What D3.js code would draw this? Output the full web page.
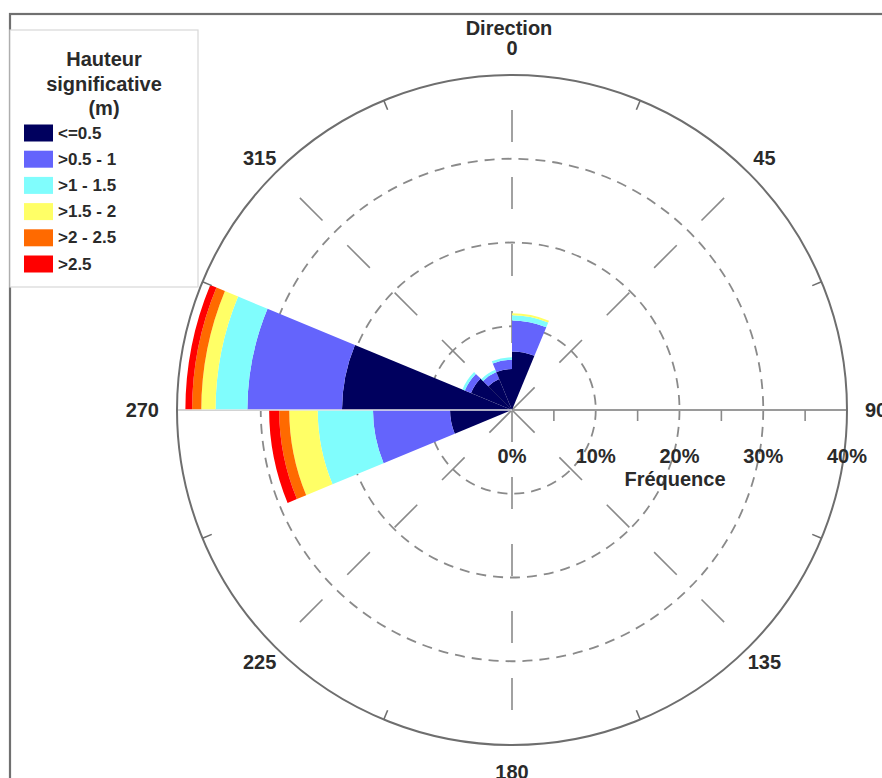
<!DOCTYPE html>
<html>
<head>
<meta charset="utf-8">
<script src="https://cdn.jsdelivr.net/npm/d3@7"></script>
<style>
  html, body { margin: 0; padding: 0; background: #fff; }
  svg { display: block; }
  text { font-family: "Liberation Sans", Arial, sans-serif; font-weight: bold; fill: #2a2a2a; }
</style>
</head>
<body>
<script>
// ---------- DATA ----------
// Direction bins (start angle in degrees, 22.5° wide)
const binStarts = [0, 22.5, 45, 67.5, 90, 112.5, 135, 157.5, 180, 202.5, 225, 247.5, 270, 292.5, 315, 337.5];
// Classes of significant wave height (m)
const classLabels = ["<=0.5", ">0.5 - 1", ">1 - 1.5", ">1.5 - 2", ">2 - 2.5", ">2.5"];
const classColors = ["#00005e", "#6464fc", "#80fdfd", "#ffff66", "#ff6a00", "#ff0000"];
// Frequency (%) per class for each direction bin
const hs05  = [7.0, 0, 0, 0, 0, 0, 0, 0, 0, 0, 0, 7.4, 20.3, 5.3, 4.0, 4.9];
const hs1   = [3.7, 0, 0, 0, 0, 0, 0, 0, 0, 0, 0, 9.2, 11.3, 0.8, 0.9, 1.1];
const hs15  = [0.6, 0, 0, 0, 0, 0, 0, 0, 0, 0, 0, 6.6, 3.8, 0.3, 0.3, 0.3];
const hs2   = [0.25, 0, 0, 0, 0, 0, 0, 0, 0, 0, 0, 3.4, 1.7, 0, 0, 0];
const hs25  = [0, 0, 0, 0, 0, 0, 0, 0, 0, 0, 0, 1.2, 1.1, 0, 0, 0];
const hs3   = [0, 0, 0, 0, 0, 0, 0, 0, 0, 0, 0, 1.2, 0.8, 0, 0, 0];
const seriesList = [hs05, hs1, hs15, hs2, hs25, hs3];
// Axis labels
const dirTickValues = [0, 45, 90, 135, 180, 225, 270, 315];
const dirTickLabels = ["0", "45", "90", "135", "180", "225", "270", "315"];
const freqTickValues = [0, 10, 20, 30, 40];
const freqTickLabels = ["0%", "10%", "20%", "30%", "40%"];
const minorFreqTicks = [5, 15, 25, 35];

// ---------- LAYOUT ----------
const W = 882, H = 778;
const cx = 512, cy = 410, R = 335;
const svg = d3.select("body").append("svg").attr("width", W).attr("height", H);

// frame
svg.append("rect").attr("x", 10).attr("y", 14).attr("width", 920).attr("height", 820)
  .attr("fill", "none").attr("stroke", "#707070").attr("stroke-width", 2.2);

const r = d3.scaleLinear().domain([0, 40]).range([0, R]);
const toRad = d => d * Math.PI / 180;
const g = svg.append("g").attr("transform", `translate(${cx},${cy})`);

// dashed rings
g.selectAll("circle.ring").data([10, 20, 30]).enter().append("circle")
  .attr("r", d => r(d)).attr("fill", "none").attr("stroke", "#8a8a8a")
  .attr("stroke-width", 1.8).attr("stroke-dasharray", "10,7");

// radial long-dashed lines (all except the horizontal axis)
const radialAngles = [0, 45, 135, 180, 225, 315];
g.selectAll("line.radial").data(radialAngles).enter().append("line")
  .attr("x1", 0).attr("y1", 0)
  .attr("x2", d => R * Math.sin(toRad(d))).attr("y2", d => -R * Math.cos(toRad(d)))
  .attr("stroke", "#8a8a8a").attr("stroke-width", 1.6).attr("stroke-dasharray", "32,35");

// horizontal axis (solid)
g.append("line").attr("x1", -R).attr("x2", R).attr("y1", 0).attr("y2", 0)
  .attr("stroke", "#9a9a9a").attr("stroke-width", 2);
g.selectAll("line.minor").data(minorFreqTicks).enter().append("line")
  .attr("x1", d => r(d)).attr("x2", d => r(d)).attr("y1", 0).attr("y2", 11)
  .attr("stroke", "#8a8a8a").attr("stroke-width", 1.6);

// stacked wedges
const arc = d3.arc();
const wedges = [];
binStarts.forEach((a, i) => {
  let cum = 0;
  seriesList.forEach((s, k) => {
    const v = s[i];
    if (v > 0) {
      wedges.push({ a0: toRad(a), a1: toRad(a + 22.5), r0: r(cum), r1: r(cum + v), color: classColors[k] });
    }
    cum += v;
  });
});
g.selectAll("path.wedge").data(wedges).enter().append("path")
  .attr("d", d => arc({ innerRadius: d.r0, outerRadius: d.r1, startAngle: d.a0, endAngle: d.a1 }))
  .attr("fill", d => d.color);

// light separator along 270 over wedges
g.append("line").attr("x1", -R).attr("x2", 0).attr("y1", 0).attr("y2", 0)
  .attr("stroke", "#e6e6e6").attr("stroke-width", 1.3);

// outer circle
g.append("circle").attr("r", R).attr("fill", "none").attr("stroke", "#6e6e6e").attr("stroke-width", 2);
// minor ticks on outer circle
const minorDir = d3.range(22.5, 360, 45);
g.selectAll("line.otick").data(minorDir).enter().append("line")
  .attr("x1", d => R * Math.sin(toRad(d))).attr("y1", d => -R * Math.cos(toRad(d)))
  .attr("x2", d => (R - 10) * Math.sin(toRad(d))).attr("y2", d => -(R - 10) * Math.cos(toRad(d)))
  .attr("stroke", "#6e6e6e").attr("stroke-width", 1.6);

// direction labels
dirTickValues.forEach((d, i) => {
  const s = Math.sin(toRad(d)), c = Math.cos(toRad(d));
  let rr = R + 22, anchor = "middle";
  if (Math.abs(s) > 0.99) { rr = R + 18; anchor = s > 0 ? "start" : "end"; }
  if (Math.abs(c) > 0.99) rr = R + 27;
  g.append("text")
    .attr("x", rr * s).attr("y", -rr * c)
    .attr("text-anchor", anchor).attr("dominant-baseline", "central")
    .style("font-size", "20px").text(dirTickLabels[i]);
});
svg.append("text").attr("x", 509).attr("y", 35).attr("text-anchor", "middle")
  .style("font-size", "20px").text("Direction");

// frequency labels
g.selectAll("text.freq").data(freqTickValues).enter().append("text")
  .attr("x", d => r(d)).attr("y", 53).attr("text-anchor", "middle")
  .style("font-size", "20px").text((d, i) => freqTickLabels[i]);
g.append("text").attr("x", 163).attr("y", 76).attr("text-anchor", "middle")
  .style("font-size", "20px").text("Fréquence");

// legend
const lg = svg.append("g");
lg.append("rect").attr("x", 10).attr("y", 30).attr("width", 188).attr("height", 257)
  .attr("fill", "#fff").attr("stroke", "#d8d8d8").attr("stroke-width", 1.2);
const titleLines = ["Hauteur", "significative", "(m)"];
const titleY = [66, 91, 115];
titleLines.forEach((t, i) => {
  lg.append("text").attr("x", 104).attr("y", titleY[i]).attr("text-anchor", "middle")
    .style("font-size", "20px").text(t);
});
classLabels.forEach((lab, i) => {
  const yc = 133 + i * 26.2;
  lg.append("rect").attr("x", 24).attr("y", yc - 8.5).attr("width", 29).attr("height", 17)
    .attr("fill", classColors[i]);
  lg.append("text").attr("x", 58).attr("y", yc).attr("dominant-baseline", "central")
    .style("font-size", "17px").text(lab);
});
</script>
</body>
</html>
